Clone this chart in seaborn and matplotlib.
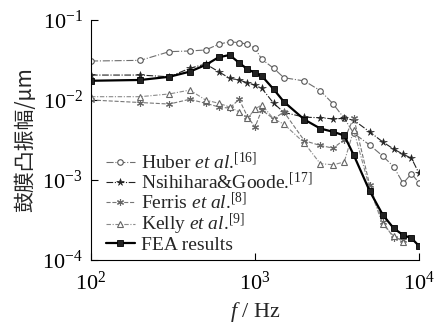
import numpy as np
import pandas as pd
import matplotlib
matplotlib.use("Agg")
import matplotlib.pyplot as plt
import seaborn as sns
from matplotlib.ticker import NullLocator, LogLocator, LogFormatterMathtext

# ---- data ----
freq = [100, 200, 300, 400, 500, 600, 700, 800, 900, 1000, 1100, 1300, 1500,
        2000, 2500, 3000, 3500, 4000, 5000, 6000, 7000, 8000, 9000, 10000]
huber = [0.0307, 0.0313, 0.0402, 0.041, 0.0422, 0.0497, 0.0535, 0.052, 0.050,
         0.0443, 0.0323, 0.0249, 0.019, 0.0173, 0.0131, 0.0089, 0.0059, 0.00384,
         0.00274, 0.0020, 0.00147, 0.00091, 0.0012, 0.00092]
nsihihara = [0.0205, 0.0205, 0.0195, 0.0249, 0.0282, 0.0226, 0.0187, 0.0178,
             0.0164, 0.0154, 0.014, 0.0091, 0.0070, 0.0061, 0.0060, 0.0058,
             0.0059, 0.0056, 0.0040, 0.0030, 0.00244, 0.0021, 0.00187, 0.00121]
fea = [0.0174, 0.0178, 0.0195, 0.0226, 0.0274, 0.0342, 0.0365, 0.0292, 0.0242,
       0.0219, 0.020, 0.0136, 0.0095, 0.0057, 0.0044, 0.0040, 0.0036, 0.00205,
       0.00073, 0.00037, 0.00025, 0.000205, 0.000187, 0.00015]
freq_short = [100, 200, 300, 400, 500, 600, 700, 800, 900, 1000, 1100, 1300,
              1500, 2000, 2500, 3000, 3500, 4000, 5000, 6000, 7000, 8000]
ferris = [0.0100, 0.0093, 0.0089, 0.0102, 0.0091, 0.0082, 0.0079, 0.0102,
          0.0062, 0.0046, 0.0075, 0.0058, 0.0071, 0.0031, 0.0027, 0.0025,
          0.0032, 0.0060, 0.00087, 0.0003, 0.00019, 0.00018]
kelly = [0.011, 0.011, 0.0119, 0.0133, 0.010, 0.0091, 0.0082, 0.0071, 0.0059,
         0.0077, 0.0087, 0.0058, 0.0050, 0.0029, 0.0016, 0.00155, 0.00168,
         0.0042, 0.00079, 0.00028, 0.0002, 0.00017]

labels = [r'Huber $\mathit{et\ al}$.$^{[16]}$',
          r'Nsihihara&Goode.$^{[17]}$',
          r'Ferris $\mathit{et\ al}$.$^{[8]}$',
          r'Kelly $\mathit{et\ al}$.$^{[9]}$',
          'FEA results']

# ---- style ----
sns.set_style("ticks")
plt.rcParams['font.family'] = ['Liberation Serif', 'DejaVu Serif']
plt.rcParams['mathtext.fontset'] = 'custom'
plt.rcParams['mathtext.rm'] = 'Liberation Serif'
plt.rcParams['mathtext.it'] = 'Liberation Serif:italic'
plt.rcParams['mathtext.bf'] = 'Liberation Serif:bold'

fig = plt.figure(figsize=(4.44, 3.26), dpi=100)
ax = fig.add_axes([91/444, 66/326, 328/444, 240/326])

series = [
    (freq, huber, dict(color='#6e6e6e', linestyle='-.', linewidth=0.8, marker='o',
                       markersize=4, markerfacecolor='white', markeredgecolor='#555555',
                       markeredgewidth=0.8)),
    (freq, nsihihara, dict(color='#222222', linestyle=(0, (6, 1.5, 1, 1.5)), linewidth=0.8,
                           marker='*', markersize=5.5, markerfacecolor='#222222',
                           markeredgecolor='#222222', markeredgewidth=0.4)),
    (freq_short, ferris, dict(color='#777777', linestyle='--', linewidth=0.8,
                              marker=(6, 2, 0), markersize=5, markeredgecolor='#666666',
                              markeredgewidth=0.8)),
    (freq_short, kelly, dict(color='#8a8a8a', linestyle=(0, (4, 1.5, 1, 1.5)), linewidth=0.8,
                             marker='^', markersize=4, markerfacecolor='white',
                             markeredgecolor='#666666', markeredgewidth=0.8)),
    (freq, fea, dict(color='black', linestyle='-', linewidth=1.6, marker='s',
                     markersize=4.5, markerfacecolor='#222222', markeredgecolor='black',
                     markeredgewidth=0.6)),
]

for (x, y, kw), lab in zip(series, labels):
    sns.lineplot(x=x, y=y, ax=ax, label=lab, sort=False, **kw)

ax.set_xscale('log')
ax.set_yscale('log')
ax.set_xlim(100, 10000)
ax.set_ylim(1e-4, 1e-1)
ax.xaxis.set_major_locator(LogLocator(base=10, numticks=10))
ax.yaxis.set_major_locator(LogLocator(base=10, numticks=10))
ax.xaxis.set_major_formatter(LogFormatterMathtext())
ax.yaxis.set_major_formatter(LogFormatterMathtext())
ax.xaxis.set_minor_locator(NullLocator())
ax.yaxis.set_minor_locator(NullLocator())
ax.tick_params(direction='in', length=5, width=0.8, labelsize=16, colors='black')
ax.tick_params(axis='y', pad=6)
ax.tick_params(axis='x', pad=8)
for s in ['top', 'right']:
    ax.spines[s].set_visible(False)
for s in ['left', 'bottom']:
    ax.spines[s].set_linewidth(0.8)
    ax.spines[s].set_color('black')

ax.set_xlabel(r'$f$ / Hz', fontsize=16, labelpad=4)
ax.set_ylabel('鼓膜凸振幅/μm', fontsize=15, family=['Noto Sans CJK SC', 'DejaVu Sans'],
              labelpad=4)

leg = ax.legend(loc='lower left', bbox_to_anchor=(0.045, 0.025), frameon=False,
                fontsize=14, handlelength=1.5, handletextpad=0.3, labelspacing=-0.05,
                borderpad=0, borderaxespad=0)

fig.savefig('out.png', dpi=100)
